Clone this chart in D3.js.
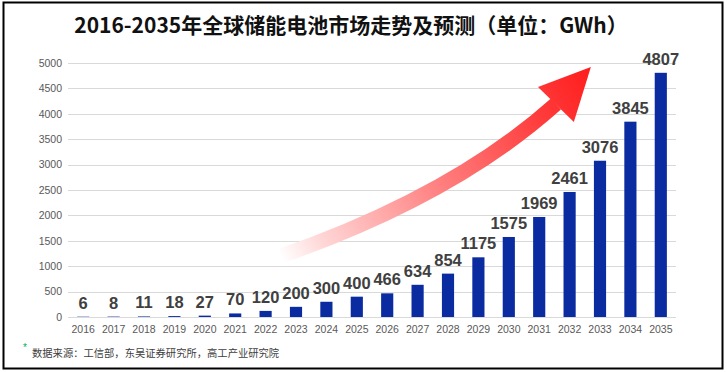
<!DOCTYPE html>
<html>
<head>
<meta charset="utf-8">
<script src="https://cdn.jsdelivr.net/npm/d3@7"></script>
<style>
  html, body { margin: 0; padding: 0; background: #fff; }
  svg { display: block; }
</style>
</head>
<body>
<svg id="chart" width="727" height="372"></svg>
<script>
var years = ['2016', '2017', '2018', '2019', '2020', '2021', '2022', '2023', '2024', '2025',
  '2026', '2027', '2028', '2029', '2030', '2031', '2032', '2033', '2034', '2035'];
var values = [6, 8, 11, 18, 27, 70, 120, 200, 300, 400,
  466, 634, 854, 1175, 1575, 1969, 2461, 3076, 3845, 4807];
var yTicks = [0, 500, 1000, 1500, 2000, 2500, 3000, 3500, 4000, 4500, 5000];
var title = '2016-2035年全球储能电池市场走势及预测（单位：GWh）';
var source = '数据来源：工信部，东吴证券研究所，高工产业研究院';

var width = 727;
var height = 372;
var numFont = '"Liberation Sans", Arial, sans-serif';
var cjkFont = '"Noto Sans CJK SC", "Noto Sans", sans-serif';

var svg = d3.select('#chart');

var x = d3.scaleBand().domain(years).range([68, 676]).paddingInner(0.6).paddingOuter(0.3);
var y = d3.scaleLinear().domain([0, 5000]).range([317, 63]);

// frame
svg.append('rect')
  .attr('x', 3.5).attr('y', 2.5)
  .attr('width', 719).attr('height', 366)
  .attr('fill', '#fff')
  .attr('stroke', '#000')
  .attr('stroke-width', 2);

// title
svg.append('text')
  .attr('x', 351).attr('y', 33)
  .attr('text-anchor', 'middle')
  .attr('font-family', cjkFont)
  .attr('font-weight', 'bold')
  .attr('font-size', 21)
  .attr('fill', '#111')
  .text(title);

// gridlines
svg.append('g')
  .selectAll('line')
  .data(yTicks).enter().append('line')
  .attr('x1', 68).attr('x2', 676)
  .attr('y1', d => Math.round(y(d)) + 0.5)
  .attr('y2', d => Math.round(y(d)) + 0.5)
  .attr('stroke', '#d9d9d9')
  .attr('stroke-width', 1);

// y axis labels
var yAxis = d3.axisLeft(y).tickValues(yTicks).tickFormat(d3.format('d')).tickSize(0).tickPadding(6);
var gy = svg.append('g').attr('transform', 'translate(68,0)').call(yAxis);
gy.select('.domain').remove();
gy.selectAll('text')
  .attr('font-family', numFont)
  .attr('font-size', 10.5)
  .attr('fill', '#595959');

// x axis labels
var xAxis = d3.axisBottom(x).tickSize(0).tickPadding(9);
var gx = svg.append('g').attr('transform', 'translate(0,317)').call(xAxis);
gx.select('.domain').remove();
gx.selectAll('text')
  .attr('font-family', numFont)
  .attr('font-size', 10.5)
  .attr('fill', '#595959');

// the growth arrow, points given as [band steps from left, value]
var px = p => [x.range()[0] + p[0] * x.step(), y(p[1])];
var shaft = [[7.0, 1200], [10.3, 1890], [13.55, 2854], [16.05, 4193]].map(px);
var head = [[17.2, 4921], [15.46, 4528], [16.64, 3839]].map(px);

var defs = svg.append('defs');
var grad = defs.append('linearGradient')
  .attr('id', 'arrowGrad')
  .attr('gradientUnits', 'userSpaceOnUse')
  .attr('x1', shaft[0][0]).attr('y1', shaft[0][1])
  .attr('x2', head[0][0]).attr('y2', head[0][1]);
grad.selectAll('stop')
  .data([[0, '#ffffff'], [0.12, '#ffd6d6'], [0.45, '#ff8585'], [0.8, '#ff3d3d'], [1, '#ff1c1c']])
  .enter().append('stop')
  .attr('offset', d => d[0])
  .attr('stop-color', d => d[1]);

var arrow = svg.append('g');
arrow.append('path')
  .attr('d', 'M' + shaft[0] + 'C' + shaft[1] + ' ' + shaft[2] + ' ' + shaft[3])
  .attr('fill', 'none')
  .attr('stroke', 'url(#arrowGrad)')
  .attr('stroke-width', 15);
arrow.append('path')
  .attr('d', 'M' + head.join('L') + 'Z')
  .attr('fill', 'url(#arrowGrad)');

// bars
svg.append('g')
  .selectAll('rect')
  .data(values).enter().append('rect')
  .attr('x', (d, i) => x(years[i]))
  .attr('y', d => y(d))
  .attr('width', x.bandwidth())
  .attr('height', d => y(0) - y(d))
  .attr('fill', '#0a2ca0');

// value labels
svg.append('g')
  .selectAll('text')
  .data(values).enter().append('text')
  .attr('x', (d, i) => x(years[i]) + x.bandwidth() / 2)
  .attr('y', d => y(d) - 8)
  .attr('text-anchor', 'middle')
  .attr('font-family', numFont)
  .attr('font-weight', 'bold')
  .attr('font-size', 16.5)
  .attr('fill', '#404040')
  .text(d => d);

// source note
svg.append('text')
  .attr('x', 23).attr('y', 351)
  .attr('font-family', numFont)
  .attr('font-size', 10)
  .attr('fill', '#00b050')
  .text('*');
svg.append('text')
  .attr('x', 32).attr('y', 357)
  .attr('font-family', cjkFont)
  .attr('font-size', 10.3)
  .attr('fill', '#404040')
  .text(source);
</script>
</body>
</html>
